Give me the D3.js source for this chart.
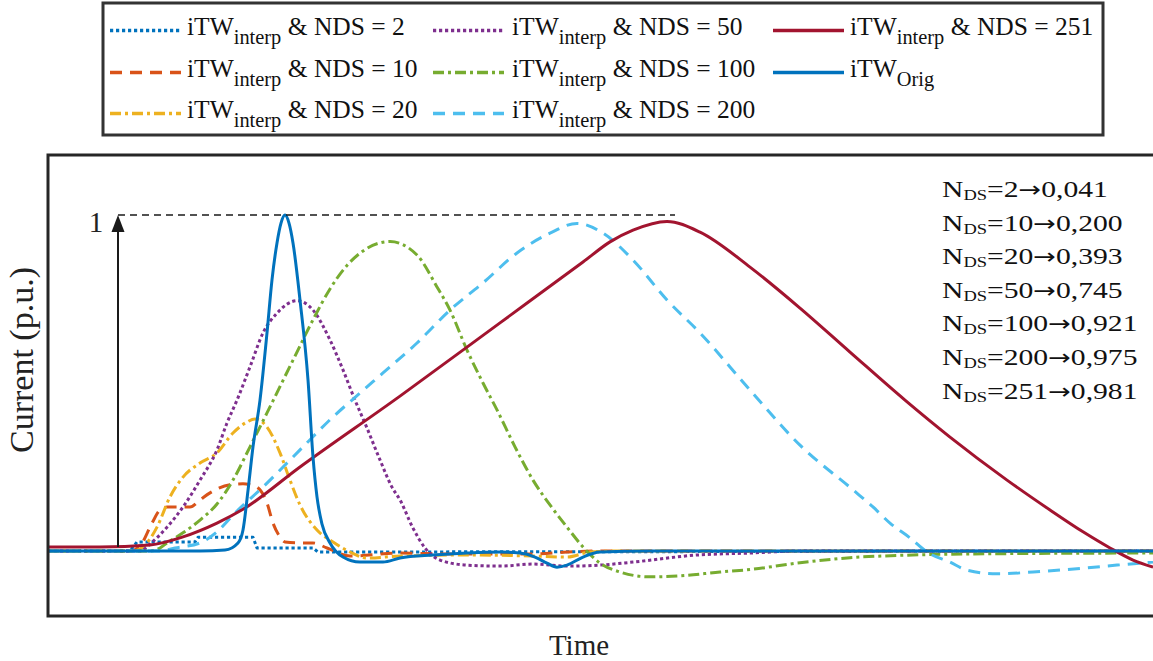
<!DOCTYPE html>
<html><head><meta charset="utf-8">
<script src="https://cdn.jsdelivr.net/npm/d3@7"></script>
<style>
html,body{margin:0;padding:0;background:#fff;}
svg{display:block;font-family:"Liberation Serif","Times New Roman",serif;}
text{white-space:pre;}
</style>
</head><body>
<svg id="chart" width="1153" height="661"></svg>
<script>
// ---------- data (time in arbitrary units, current in p.u.) ----------
const ndsLabels = ["2", "10", "20", "50", "100", "200", "251"];
const peakLabels = ["0,041", "0,200", "0,393", "0,745", "0,921", "0,975", "0,981"];

const t2 = [0, 8.2, 8.9, 14.7, 15.0, 20.5, 20.9, 26.5, 27.0, 60.0, 110.5];
const v2 = [0, 0, 0.027, 0.027, 0.041, 0.041, 0.009, 0.009, -0.003, -0.002, 0];

const t10 = [0, 8.2, 9.2, 10.4, 11.2, 11.9, 14.2, 15.2, 16.2, 18.2, 19.5, 20.2, 20.9, 21.9, 22.5, 23.2, 23.7, 25.2, 26.5, 27.9, 30.2, 35.2, 40.2, 48.5, 51.9, 55.2, 110.5];
const v10 = [0, 0, 0.015, 0.083, 0.122, 0.131, 0.131, 0.152, 0.173, 0.197, 0.2, 0.197, 0.19, 0.143, 0.083, 0.042, 0.027, 0.024, 0.024, 0.009, -0.015, -0.006, -0.009, -0.009, -0.003, 0, 0];

const t20 = [0, 8.5, 9.5, 10.9, 12.2, 13.5, 15.2, 16.9, 18.5, 19.9, 20.7, 21.9, 23.2, 24.2, 25.2, 26.9, 28.5, 30.2, 31.9, 35.2, 41.9, 48.5, 51.9, 54.2, 57.2, 110.5];
const v20 = [0, 0, 0.012, 0.071, 0.161, 0.22, 0.262, 0.292, 0.351, 0.384, 0.393, 0.369, 0.292, 0.211, 0.137, 0.0625, 0.027, -0.003, -0.021, -0.015, -0.012, -0.015, -0.018, -0.003, 0, 0];

const t50 = [0, 9.2, 10.2, 11.9, 13.5, 15.2, 16.9, 17.9, 18.9, 20.2, 21.5, 22.9, 24.9, 26.5, 28.2, 29.5, 30.7, 31.9, 33.2, 34.4, 35.2, 36.5, 37.7, 39.2, 41.9, 45.2, 48.5, 51.9, 55.2, 58.5, 64.9, 70.2, 75.2, 110.5];
const v50 = [0, 0, 0.021, 0.071, 0.131, 0.211, 0.301, 0.381, 0.449, 0.548, 0.649, 0.708, 0.745, 0.717, 0.628, 0.539, 0.449, 0.366, 0.271, 0.19, 0.152, 0.068, 0.009, -0.027, -0.042, -0.045, -0.039, -0.045, -0.042, -0.033, -0.012, -0.006, 0, 0];

const t100 = [0, 10.2, 11.2, 11.9, 13.5, 15.2, 16.9, 18.5, 20.2, 21.9, 24.5, 26.5, 28.2, 29.9, 31.5, 34.2, 36.9, 38.9, 40.2, 41.9, 43.5, 44.9, 46.7, 48.5, 50.2, 51.9, 53.5, 55.2, 57.2, 60.2, 63.2, 67.2, 70.2, 75.2, 80.2, 85.2, 95.2, 110.5];
const v100 = [0, 0, 0.009, 0.024, 0.054, 0.092, 0.14, 0.211, 0.31, 0.411, 0.568, 0.688, 0.78, 0.85, 0.893, 0.921, 0.881, 0.786, 0.717, 0.598, 0.5, 0.42, 0.31, 0.211, 0.137, 0.071, 0.012, -0.036, -0.0625, -0.077, -0.074, -0.0625, -0.055, -0.035, -0.02, -0.013, -0.008, -0.006];

const t200 = [0, 11.2, 12.7, 15.2, 16.9, 18.5, 21.9, 25.2, 28.5, 31.2, 33.5, 36.9, 40.2, 43.5, 46.9, 50.2, 52.9, 55.5, 58.5, 61.9, 65.2, 70.2, 75.2, 80.5, 82.5, 84.2, 86.2, 87.9, 90.2, 91.9, 94.9, 98.5, 103.5, 106.9, 110.5];
const v200 = [0, 0, 0.009, 0.024, 0.057, 0.107, 0.202, 0.301, 0.399, 0.47, 0.53, 0.619, 0.717, 0.798, 0.887, 0.946, 0.975, 0.946, 0.866, 0.747, 0.649, 0.479, 0.315, 0.182, 0.131, 0.083, 0.039, -0.003, -0.033, -0.057, -0.068, -0.0625, -0.051, -0.042, -0.033];

const t251 = [0, 5.2, 10.2, 13.5, 16.9, 19.5, 25.2, 35.2, 45.2, 53.5, 56.2, 58.5, 61.9, 65.2, 70.2, 75.2, 80.2, 85.7, 90.2, 95.9, 100.2, 103.5, 106.2, 108.5, 110.5];
const v251 = [0.012, 0.012, 0.018, 0.042, 0.083, 0.124, 0.25, 0.461, 0.679, 0.86, 0.92, 0.955, 0.981, 0.949, 0.845, 0.723, 0.592, 0.449, 0.339, 0.211, 0.122, 0.057, 0.009, -0.027, -0.048];

const tOrig = [0, 15.2, 17.7, 19.0, 19.5, 20.0, 20.5, 21.2, 21.9, 22.4, 22.9, 23.3, 23.7, 24.1, 24.5, 25.2, 26.0, 26.5, 26.9, 27.4, 28.2, 29.5, 31.2, 33.5, 35.2, 38.5, 41.9, 45.2, 47.2, 48.7, 49.9, 50.9, 51.9, 53.5, 55.2, 60.2, 110.5];
const vOrig = [0, 0, 0.003, 0.024, 0.0625, 0.18, 0.31, 0.449, 0.649, 0.807, 0.917, 0.976, 1.0, 0.976, 0.917, 0.747, 0.509, 0.28, 0.161, 0.08, 0.024, -0.018, -0.033, -0.033, -0.021, -0.012, -0.006, -0.003, -0.006, -0.018, -0.036, -0.048, -0.042, -0.018, -0.003, 0, 0];

// reference marker (unit peak) extent in time units
const refArrowT = 7.0;
const refLineEnd = 62.7;

// ---------- drawing ----------
const svg = d3.select("#chart");
const x = d3.scaleLinear().domain([0, 110.5]).range([48, 1153]);
const y = d3.scaleLinear().domain([0, 1]).range([551, 215]);

const DOT = "3.2,2.8", DASH = "12,8", DASHDOT = "11,4,3,4";
const styles = [
  {color: "#0072BD", dash: DOT},
  {color: "#D95319", dash: DASH},
  {color: "#EDB120", dash: DASHDOT},
  {color: "#7E2F8E", dash: DOT},
  {color: "#77AC30", dash: DASHDOT},
  {color: "#4DBEEE", dash: DASH},
  {color: "#A2142F", dash: null},
  {color: "#0072BD", dash: null}
];
const seriesT = [t2, t10, t20, t50, t100, t200, t251, tOrig];
const seriesV = [v2, v10, v20, v50, v100, v200, v251, vOrig];

svg.append("defs").append("clipPath").attr("id", "clip")
  .append("rect").attr("x", 48).attr("y", 155).attr("width", 1105).attr("height", 461);

const plot = svg.append("g").attr("clip-path", "url(#clip)");

seriesT.forEach((ts, i) => {
  const pts = ts.map((t, k) => [t, seriesV[i][k]]);
  const line = d3.line()
    .x(d => x(d[0])).y(d => y(d[1]))
    .curve(i === 0 ? d3.curveLinear : d3.curveMonotoneX);
  plot.append("path")
    .attr("d", line(pts))
    .attr("fill", "none")
    .attr("stroke", styles[i].color)
    .attr("stroke-width", 3)
    .attr("stroke-dasharray", styles[i].dash)
    .attr("stroke-linejoin", "round");
});

// unit reference: dashed line + arrow + label
svg.append("line")
  .attr("x1", x(refArrowT)).attr("x2", x(refLineEnd))
  .attr("y1", y(1)).attr("y2", y(1))
  .attr("stroke", "#1a1a1a").attr("stroke-width", 1.4).attr("stroke-dasharray", "7,5");
svg.append("line")
  .attr("x1", x(refArrowT)).attr("x2", x(refArrowT))
  .attr("y1", y(0.012)).attr("y2", y(1) + 14)
  .attr("stroke", "#1a1a1a").attr("stroke-width", 2);
svg.append("path")
  .attr("d", `M${x(refArrowT)},${y(1)} L${x(refArrowT) - 6.5},${y(1) + 17} L${x(refArrowT) + 6.5},${y(1) + 17} Z`)
  .attr("fill", "#1a1a1a");
svg.append("text")
  .attr("x", x(refArrowT) - 22).attr("y", y(1) + 17)
  .attr("text-anchor", "middle").attr("font-size", 29).attr("fill", "#222")
  .text("1");

// frame
svg.append("rect")
  .attr("x", 48).attr("y", 155).attr("width", 1125).attr("height", 461)
  .attr("fill", "none").attr("stroke", "#262626").attr("stroke-width", 3);

// annotation lines
const ann = svg.append("g");
const annLines = ndsLabels.map((n, i) => {
  const tx = ann.append("text")
    .attr("font-size", 24).attr("fill", "#111");
  tx.append("tspan").text("N");
  tx.append("tspan").attr("font-size", 15).attr("dy", 3).text("DS");
  tx.append("tspan").attr("dy", -3).text("=" + n);
  tx.append("tspan").attr("font-family", "DejaVu Sans").attr("font-size", 22).text("\u2192");
  tx.append("tspan").text(peakLabels[i]);
  return tx;
});
const w0 = annLines[0].node().getComputedTextLength();
const annSX = 166 / w0;
annLines.forEach((tx, i) => {
  tx.attr("transform", `translate(942,${197 + i * 33.6}) scale(${annSX},1)`);
});

// axis labels
svg.append("text")
  .attr("x", 579).attr("y", 655).attr("text-anchor", "middle")
  .attr("font-size", 29).attr("fill", "#222").text("Time");
svg.append("text")
  .attr("transform", "translate(33,360) rotate(-90)")
  .attr("text-anchor", "middle").attr("font-size", 34).attr("fill", "#222")
  .text("Current (p.u.)");

// legend
const leg = svg.append("g");
leg.append("rect")
  .attr("x", 103).attr("y", 3).attr("width", 1000).attr("height", 132)
  .attr("fill", "#fff").attr("stroke", "#333").attr("stroke-width", 3);
const colSample = [110, 433, 773];
const colText = [187, 512, 850];
const rowBase = [35, 77, 118];
const LSX = 1.02;
styles.forEach((st, i) => {
  const col = Math.floor(i / 3), row = i % 3;
  const ly = rowBase[row] - 4.5;
  leg.append("line")
    .attr("x1", colSample[col]).attr("x2", colSample[col] + 71)
    .attr("y1", ly).attr("y2", ly)
    .attr("stroke", st.color).attr("stroke-width", 3.5)
    .attr("stroke-dasharray", st.dash);
  const tx = leg.append("text")
    .attr("transform", `translate(${colText[col]},${rowBase[row]}) scale(${LSX},1)`)
    .attr("font-size", 25).attr("fill", "#111");
  tx.append("tspan").text("iTW");
  if (i < ndsLabels.length) {
    tx.append("tspan").attr("font-size", 20).attr("dy", 9).text("interp");
    tx.append("tspan").attr("dy", -9).text(" & NDS = " + ndsLabels[i]);
  } else {
    tx.append("tspan").attr("font-size", 20).attr("dy", 9).text("Orig");
  }
});
</script>
</body></html>
